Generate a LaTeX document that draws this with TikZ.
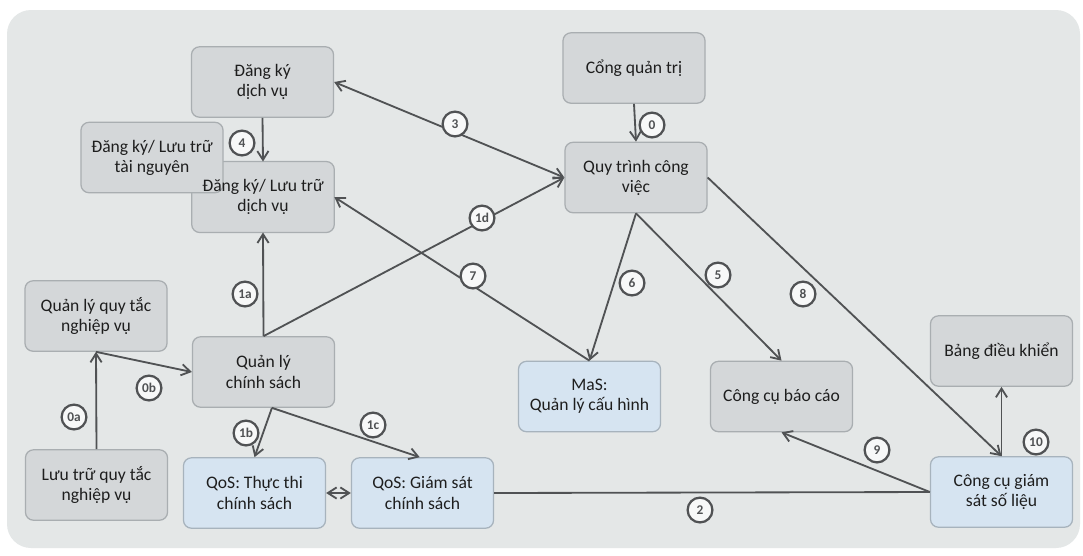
\documentclass[tikz,border=0pt]{standalone}
\usepackage{fontspec}
\setmainfont{Carlito}
\usetikzlibrary{arrows.meta}
\pgfdeclarelayer{back}
\pgfdeclarelayer{mid}
\pgfsetlayers{back,mid,main}
\definecolor{panel}{HTML}{E4E7E7}
\definecolor{grayfill}{HTML}{D4D7D9}
\definecolor{grayline}{HTML}{A9AEB1}
\definecolor{bluefill}{HTML}{D6E4F1}
\definecolor{blueline}{HTML}{A7B3BD}
\definecolor{wire}{HTML}{505254}
\definecolor{ink}{HTML}{1E1E1E}
\begin{document}
\begin{tikzpicture}[x=0.025cm,y=-0.025cm,
  boxtext/.style={rectangle, minimum width=3.55cm, minimum height=1.76cm,
    inner sep=0pt, align=center, text=ink,
    font=\fontsize{12.5}{14.3}\selectfont},
  graybox/.style={boxtext, rounded corners=0.2cm, fill=grayfill, draw=grayline, line width=0.9pt},
  bluebox/.style={boxtext, rounded corners=0.2cm, fill=bluefill, draw=blueline, line width=0.9pt},
  shapeonly/.style={rounded corners=0.2cm, fill=grayfill, draw=grayline, line width=0.9pt},
  conn/.style={draw=wire, line width=1.3pt, -{Straight Barb[length=2.2mm,width=2.8mm]}},
  plain/.style={draw=wire, line width=1.3pt},
  both/.style={draw=wire, line width=1.3pt, {Straight Barb[length=2.2mm,width=2.8mm]}-{Straight Barb[length=2.2mm,width=2.8mm]}},
  tag/.style={circle, draw=wire, line width=1.6pt, fill=white!70!panel, inner sep=0pt,
    minimum size=0.62cm, text=wire, font=\fontsize{9.5}{9.5}\selectfont\bfseries}
]
\useasboundingbox (0,0) rectangle (1083,555);

% white page and the light panel behind the whole diagram
\begin{pgfonlayer}{back}
  \fill[white] (0,0) rectangle (1083,555);
  \fill[panel, rounded corners=0.6cm] (7,10) rectangle (1080,548);
\end{pgfonlayer}

% registry boxes (the resource box sits between the service box and its text)
\node[boxtext] (reg) at (263,197) {Đăng ký/ Lưu trữ\\dịch vụ};
\begin{pgfonlayer}{back}
  \draw[shapeonly] (reg.south west) rectangle (reg.north east);
\end{pgfonlayer}
\begin{pgfonlayer}{mid}
  \node[graybox] (tn) at (152,157.5) {Đăng ký/ Lưu trữ\\tài nguyên};
\end{pgfonlayer}

\node[graybox] (dv)   at (262.5,82)  {Đăng ký\\dịch vụ};
\node[graybox] (cong) at (634,68)    {Cổng quản trị};
\node[graybox] (qt)   at (636,177.5) {Quy trình công\\việc};
\node[graybox] (qlqt) at (96,316)    {Quản lý quy tắc\\nghiệp vụ};
\node[graybox] (qlcs) at (263.5,372) {Quản lý\\chính sách};
\node[graybox] (lqt)  at (96.5,485)  {Lưu trữ quy tắc\\nghiệp vụ};
\node[bluebox] (qos1) at (254.5,493) {QoS: Thực thi\\chính sách};
\node[bluebox] (qos2) at (422.5,493) {QoS: Giám sát\\chính sách};
\node[bluebox] (mas)  at (589.5,396.5) {MaS:\\Quản lý cấu hình};
\node[graybox] (bc)   at (781.5,396.5) {Công cụ báo cáo};
\node[graybox] (bdk)  at (1001.5,351) {Bảng điều khiển};
\node[bluebox] (gs)   at (1001.5,492) {Công cụ giám\\sát số liệu};

% connectors
\draw[conn] (cong.south) -- (qt.north);
\draw[both] (dv.east) -- (qt.west);
\draw[conn] (dv.south) -- (reg.north);
\draw[conn] (qlcs.north) -- (reg.south);
\draw[conn] (qlcs.north) -- (qt.west);
\draw[conn] (mas.north) -- (reg.east);
\draw[conn] (qt.south) -- (mas.north);
\draw[conn] (qt.south) -- (bc.north);
\draw[conn] (qt.east) -- (gs.north);
\draw[conn] (gs.north) -- (bdk.south);
\draw[conn] (gs.west) -- (bc.south);
\draw[plain] (gs.west) -- (qos2.east);
\draw[both] (qos1.east) -- (qos2.west);
\draw[conn] ([xshift=6]qlcs.south) -- (qos1.north);
\draw[conn] ([xshift=6]qlcs.south) -- ([xshift=-2]qos2.north);
\draw[conn] (lqt.north) -- (qlqt.south);
\draw[conn] (qlqt.south) -- (qlcs.west);

% step numbers
\node[tag] (t0)  at (652,125) {0};
\node[tag] (t3)  at (455,124) {3};
\node[tag] (t4)  at (242,143) {4};
\node[tag] (t1d) at (482,218) {1d};
\node[tag] (t7)  at (473,276) {7};
\node[tag] (t6)  at (632,283) {6};
\node[tag] (t5)  at (718,275) {5};
\node[tag] (t8)  at (803,294) {8};
\node[tag] (t1a) at (245,294) {1a};
\node[tag] (t0b) at (149,388) {0b};
\node[tag] (t0a) at (74,417)  {0a};
\node[tag] (t1b) at (246,433) {1b};
\node[tag] (t1c) at (373,425) {1c};
\node[tag] (t9)  at (877,450) {9};
\node[tag] (t10) at (1036,442) {10};
\node[tag] (t2)  at (700,510) {2};
\end{tikzpicture}
\end{document}
